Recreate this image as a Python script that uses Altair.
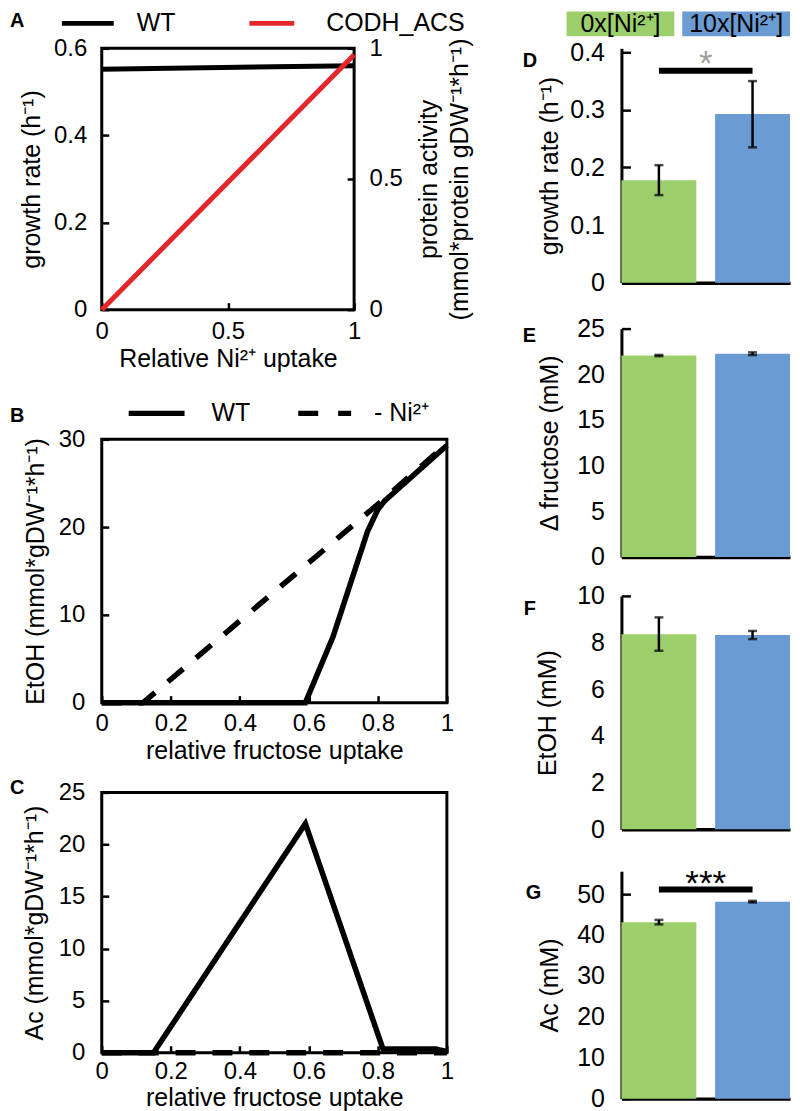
import altair as alt
import pandas as pd

FONT = "Liberation Sans"
BLACK = "#000000"
RED = "#E3262B"
GREEN = "#9CCF6B"
BLUE = "#6A9BD2"
GREY = "#A0A0A0"

# ---------------- data ----------------
# Panel A
a_series = ["WT", "CODH_ACS"]
a_x = [0.0, 1.0]
a_wt = [0.552, 0.560]          # growth rate (h-1), left axis
a_codh = [0.0, 0.975]          # protein activity, right axis
a_xticks = [0, 0.5, 1]
a_yticks = [0, 0.2, 0.4, 0.6]
a_y2ticks = [0, 0.5, 1]

# Panel B
b_series = ["WT", "- Ni²⁺"]
b_wt_x = [0.0, 0.59, 0.67, 0.77, 0.80, 0.82, 1.0]
b_wt_y = [0.0, 0.0, 7.5, 19.5, 22.0, 23.0, 29.3]
b_ni_x = [0.0, 0.12, 0.80, 1.0]
b_ni_y = [0.0, 0.0, 22.6, 29.5]
frac_ticks = [0, 0.2, 0.4, 0.6, 0.8, 1]
b_yticks = [0, 10, 20, 30]

# Panel C
c_wt_x = [0.0, 0.15, 0.59, 0.815, 0.97, 1.0]
c_wt_y = [0.0, 0.0, 22.0, 0.35, 0.35, 0.1]
c_ni_x = [0.0, 1.0]
c_ni_y = [0.0, 0.0]
c_yticks = [0, 5, 10, 15, 20, 25]

# Panels D-G
conds = ["0x[Ni²⁺]", "10x[Ni²⁺]"]
d_mean = [0.178, 0.293]; d_lo = [0.152, 0.235]; d_hi = [0.204, 0.350]
e_mean = [22.05, 22.25]; e_lo = [21.98, 22.10]; e_hi = [22.12, 22.40]
f_mean = [8.36, 8.33]; f_lo = [7.65, 8.15]; f_hi = [9.08, 8.50]
g_mean = [43.15, 48.15]; g_lo = [42.60, 47.95]; g_hi = [43.70, 48.35]
d_yticks = [0, 0.1, 0.2, 0.3, 0.4]
e_yticks = [0, 5, 10, 15, 20, 25]
f_yticks = [0, 2, 4, 6, 8, 10]
g_yticks = [0, 10, 20, 30, 40, 50]
d_sig = {"y": 0.368, "label": "*", "ly": 0.380}
g_sig = {"y": 51.1, "label": "***", "ly": 52.5}

ONE = alt.Data(values=[{}])
FMT = "~r"
DASH = [20, 17]


def letter(ch, x, y):
    return alt.Chart(ONE).mark_text(
        text=ch, fontSize=20, fontWeight="bold", align="left", baseline="top",
        font=FONT, color=BLACK
    ).encode(x=alt.value(x), y=alt.value(y))


def key_line(x0, x1, y, color, width, dash=None):
    kw = dict(color=color, strokeWidth=width, strokeCap="butt")
    if dash:
        kw["strokeDash"] = dash
    return alt.Chart(ONE).mark_rule(**kw).encode(
        x=alt.value(x0), x2=alt.value(x1), y=alt.value(y))


def key_text(label, x, y):
    return alt.Chart(ONE).mark_text(
        text=label, fontSize=25, align="left", baseline="middle", font=FONT, color=BLACK
    ).encode(x=alt.value(x), y=alt.value(y))


def inward_axis(values, title, lab_pad, title_pad, orient=None, tick=7, **kw):
    args = dict(values=values, format=FMT, title=title, offset=-tick, tickSize=tick,
                tickWidth=2.5, domain=False, labelPadding=lab_pad, labelFontSize=24,
                titleFontSize=25, titlePadding=title_pad, labelFlush=False,
                labelOverlap=False, grid=False)
    if orient:
        args["orient"] = orient
    args.update(kw)
    return alt.Axis(**args)


# ---------------- Panel A ----------------
dfA = pd.DataFrame({
    "x": a_x + a_x,
    "v": a_wt + a_codh,
    "series": [a_series[0]] * len(a_x) + [a_series[1]] * len(a_x),
})
colA = alt.Color("series:N", scale=alt.Scale(domain=a_series, range=[BLACK, RED]),
                 legend=None)
xA = alt.X("x:Q", scale=alt.Scale(domain=[0, 1], nice=False),
           axis=inward_axis(a_xticks, "Relative Ni²⁺ uptake", 10, 3))
lineWT = alt.Chart(dfA).transform_filter(f"datum.series == '{a_series[0]}'").mark_line(
    strokeWidth=5, strokeCap="butt").encode(
    x=xA,
    y=alt.Y("v:Q", scale=alt.Scale(domain=[0, 0.6], nice=False),
            axis=inward_axis(a_yticks, "growth rate (h⁻¹)", 15, 9)),
    color=colA,
)
lineCO = alt.Chart(dfA).transform_filter(f"datum.series == '{a_series[1]}'").mark_line(
    strokeWidth=5, strokeCap="butt").encode(
    x=xA,
    y=alt.Y("v:Q", scale=alt.Scale(domain=[0, 1], nice=False),
            axis=inward_axis(a_y2ticks, ["protein activity", "(mmol*protein gDW⁻¹*h⁻¹)"],
                             15, 8, orient="right", titleAngle=270, titleLineHeight=31)),
    color=colA,
)
legA = [
    key_line(-40, 12, -25, BLACK, 5), key_text(a_series[0], 35, -25),
    key_line(148, 193, -25, RED, 5), key_text(a_series[1], 225, -25),
]
chartA = alt.layer(lineWT, lineCO, *legA, letter("A", -92, -37)).resolve_scale(
    y="independent").properties(width=253, height=262)

# ---------------- Panel B ----------------
dfB = pd.DataFrame({
    "x": b_wt_x + b_ni_x,
    "v": b_wt_y + b_ni_y,
    "series": [b_series[0]] * len(b_wt_x) + [b_series[1]] * len(b_ni_x),
})
dashScale = alt.Scale(domain=b_series, range=[[1, 0], DASH])
lineB = alt.Chart(dfB).mark_line(strokeWidth=5.5, color=BLACK, strokeCap="butt").encode(
    x=alt.X("x:Q", scale=alt.Scale(domain=[0, 1], nice=False),
            axis=inward_axis(frac_ticks, "relative fructose uptake", 9, 3)),
    y=alt.Y("v:Q", scale=alt.Scale(domain=[0, 30], nice=False),
            axis=inward_axis(b_yticks, "EtOH (mmol*gDW⁻¹*h⁻¹)", 17, 10)),
    strokeDash=alt.StrokeDash("series:N", scale=dashScale, legend=None),
)
legB = [
    key_line(27, 83, -26, BLACK, 5.5), key_text(b_series[0], 110, -26),
    key_line(197, 250, -26, BLACK, 5.5, dash=[20, 20]), key_text(b_series[1], 273, -26),
]
chartB = alt.layer(lineB, *legB, letter("B", -92, -33)).properties(width=346, height=264)

# ---------------- Panel C ----------------
dfC = pd.DataFrame({
    "x": c_wt_x + c_ni_x,
    "v": c_wt_y + c_ni_y,
    "series": [b_series[0]] * len(c_wt_x) + [b_series[1]] * len(c_ni_x),
})
lineC = alt.Chart(dfC).mark_line(strokeWidth=5.5, color=BLACK, strokeCap="butt").encode(
    x=alt.X("x:Q", scale=alt.Scale(domain=[0, 1], nice=False),
            axis=inward_axis(frac_ticks, "relative fructose uptake", 7, 2)),
    y=alt.Y("v:Q", scale=alt.Scale(domain=[0, 25], nice=False),
            axis=inward_axis(c_yticks, "Ac (mmol*gDW⁻¹*h⁻¹)", 17, 11)),
    strokeDash=alt.StrokeDash("series:N", scale=dashScale, legend=None),
)
chartC = alt.layer(lineC, letter("C", -92, -14)).properties(width=346, height=261)


# ---------------- Panels D-G ----------------
W = 169


def bar_panel(let, let_x, let_y, means, los, his, ymax, yticks, title, title_pad, height,
              sig=None, sig_color=BLACK, boxes=False):
    df = pd.DataFrame({"cond": conds, "mean": means, "lo": los, "hi": his})
    xs = alt.Scale(domain=conds, paddingInner=0.2, paddingOuter=0)
    xax = alt.Axis(title=None, labels=False, ticks=False, tickSize=0, domain=True,
                   domainWidth=3.5, domainColor=BLACK, grid=False)
    ys = alt.Scale(domain=[0, ymax], nice=False, zero=True)
    x = alt.X("cond:N", scale=xs, axis=xax)
    bars = alt.Chart(df).mark_bar().encode(
        x=x,
        y=alt.Y("mean:Q", scale=ys, axis=alt.Axis(
            values=yticks, format=FMT, title=title, domain=True, domainWidth=3,
            domainColor=BLACK, ticks=False, tickSize=0, labelPadding=17, labelFontSize=25,
            titleFontSize=25, titlePadding=title_pad, labelFlush=False, labelOverlap=False,
            grid=False)),
        color=alt.Color("cond:N", scale=alt.Scale(domain=conds, range=[GREEN, BLUE]),
                        legend=None),
    )
    err = alt.Chart(df).mark_rule(strokeWidth=2.5, color=BLACK).encode(
        x=x,
        y=alt.Y("lo:Q", scale=ys, axis=alt.Axis(
            orient="left", values=yticks, offset=-9, tickSize=9, tickWidth=2.5,
            domain=False, labels=False, title=None, grid=False)),
        y2="hi:Q",
    )
    cap_lo = alt.Chart(df).mark_tick(size=9, thickness=2.5, color=BLACK).encode(
        x=x, y=alt.Y("lo:Q", scale=ys, axis=None))
    cap_hi = alt.Chart(df).mark_tick(size=9, thickness=2.5, color=BLACK).encode(
        x=x, y=alt.Y("hi:Q", scale=ys, axis=None))
    layers = [bars, err, cap_lo, cap_hi]
    if sig is not None:
        sdf = pd.DataFrame({"s1": [conds[0]], "s2": [conds[1]], "y": [sig["y"]],
                            "ly": [sig["ly"]], "label": [sig["label"]]})
        layers.append(alt.Chart(sdf).mark_rule(strokeWidth=6, color=BLACK,
                                               strokeCap="butt").encode(
            x=alt.X("s1:N", scale=xs, axis=xax), x2="s2:N",
            y=alt.Y("y:Q", scale=ys, axis=None)))
        layers.append(alt.Chart(sdf).mark_text(fontSize=35, color=sig_color, font=FONT,
                                               baseline="middle").encode(
            x=alt.value(W / 2), y=alt.Y("ly:Q", scale=ys, axis=None), text="label:N"))
    if boxes:
        for i, (c, fill) in enumerate(zip(conds, [GREEN, BLUE])):
            x0 = -55 + i * 116
            layers.append(alt.Chart(ONE).mark_rect(color=fill).encode(
                x=alt.value(x0), x2=alt.value(x0 + 108),
                y=alt.value(-37), y2=alt.value(-12)))
            layers.append(alt.Chart(ONE).mark_text(
                text=c, fontSize=25, font=FONT, color=BLACK, align="center",
                baseline="middle").encode(x=alt.value(x0 + 54), y=alt.value(-24)))
    layers.append(letter(let, let_x, let_y))
    return alt.layer(*layers).resolve_axis(y="independent").properties(
        width=W, height=height, view=alt.ViewBackground(stroke="transparent"))


chartD = bar_panel("D", -99, 2.5, d_mean, d_lo, d_hi, 0.4069, d_yticks,
                   "growth rate (h⁻¹)", 7, 235, sig=d_sig, sig_color=GREY, boxes=True)
chartE = bar_panel("E", -99, -2.5, e_mean, e_lo, e_hi, 25, e_yticks,
                   "Δ fructose (mM)", 14, 229)
chartF = bar_panel("F", -98, 3.5, f_mean, f_lo, f_hi, 10, f_yticks,
                   "EtOH (mM)", 16, 234)
chartG = bar_panel("G", -96, 11.5, g_mean, g_lo, g_hi, 55.6, g_yticks,
                   "Ac (mM)", 14, 228, sig=g_sig, sig_color=BLACK)

RES = dict(color="independent", strokeDash="independent")

left = alt.vconcat(
    chartA,
    alt.vconcat(chartB, chartC, spacing=90, bounds="flush").resolve_scale(**RES),
    spacing=130, bounds="flush").resolve_scale(**RES)

right = alt.vconcat(
    chartD,
    alt.vconcat(
        chartE,
        alt.vconcat(chartF, chartG, spacing=42, bounds="flush").resolve_scale(**RES),
        spacing=39, bounds="flush").resolve_scale(**RES),
    spacing=46, bounds="flush").resolve_scale(**RES)

chart = alt.hconcat(left, right, spacing=521, bounds="flush").resolve_scale(**RES).properties(
    padding=0
).configure(font=FONT).configure_axis(
    labelColor=BLACK, titleColor=BLACK, tickColor=BLACK, domainColor=BLACK,
    labelFont=FONT, titleFont=FONT, titleFontWeight="normal", grid=False,
).configure_view(stroke=BLACK, strokeWidth=3)

chart.save("out.html", embed_options={"renderer": "svg", "actions": False})
